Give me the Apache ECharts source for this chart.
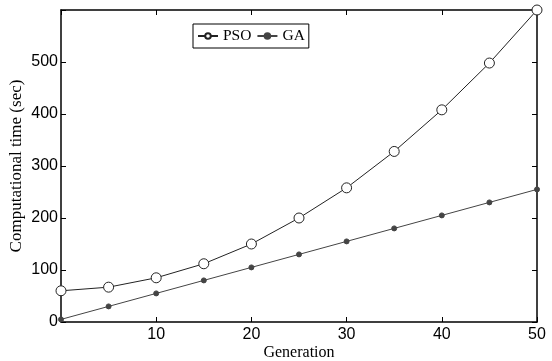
<!DOCTYPE html>
<html><head><meta charset="utf-8">
<script src="https://cdn.jsdelivr.net/npm/echarts@6/dist/echarts.min.js"></script>
<style>html,body{margin:0;padding:0;background:#fff}#c{width:552px;height:361px}</style>
</head><body><div id="c"></div>
<script>
const generations = [0,5,10,15,20,25,30,35,40,45,50];
const psoTime = [60,67,85,112,150,200,258,328,408,498,600];
const gaTime = [5,30,55,80,105,130,155,180,205,230,255];
const xTicks = [10,20,30,40,50];
const yTicks = [0,100,200,300,400,500];

const chart = echarts.init(document.getElementById('c'));
const sans = 'Liberation Sans, Arial, sans-serif';
const serif = 'Liberation Serif, Times New Roman, serif';
const axisCommon = {
  axisLine:{show:true,onZero:false,lineStyle:{color:'#000',width:1.5}},
  axisTick:{show:true,inside:true,length:5,lineStyle:{color:'#000',width:1}},
  splitLine:{show:false}
};
chart.setOption({
  animation:false,
  grid:{left:61,right:15,top:10,bottom:39,containLabel:false,outerBoundsMode:'none'},
  legend:{
    left:193,top:24,padding:[4,4,4,4],
    borderColor:'#000',borderWidth:1,itemGap:5,itemWidth:20,itemHeight:7,
    textStyle:{fontFamily:serif,fontSize:15.5,color:'#000'},
    data:['PSO','GA']
  },
  xAxis:[
    Object.assign({type:'value',min:0,max:50,interval:10,position:'bottom',
      name:'Generation',nameLocation:'middle',nameGap:23,nameMoveOverlap:false,
      nameTextStyle:{fontFamily:serif,fontSize:16,color:'#000'},
      axisLabel:{fontFamily:sans,fontSize:16,color:'#000',margin:5,
        formatter:v=>xTicks.includes(v)?String(v):''}},axisCommon),
    Object.assign({type:'value',min:0,max:50,interval:10,position:'top',
      axisLabel:{show:false}},axisCommon)
  ],
  yAxis:[
    Object.assign({type:'value',min:0,max:600,interval:100,position:'left',
      name:'Computational time (sec)',nameLocation:'middle',nameGap:36,nameMoveOverlap:false,
      nameTextStyle:{fontFamily:serif,fontSize:17,color:'#000'},
      axisLabel:{fontFamily:sans,fontSize:16,color:'#000',margin:3,
        formatter:v=>yTicks.includes(v)?String(v):''}},axisCommon),
    Object.assign({type:'value',min:0,max:600,interval:100,position:'right',
      axisLabel:{show:false}},axisCommon)
  ],
  series:[
    {name:'PSO',type:'line',data:generations.map((g,i)=>[g,psoTime[i]]),
      symbol:'circle',symbolSize:10,showAllSymbol:true,
      itemStyle:{color:'#fff',borderColor:'#222',borderWidth:1},
      lineStyle:{color:'#222',width:1},z:3,clip:false},
    {name:'GA',type:'line',data:generations.map((g,i)=>[g,gaTime[i]]),
      symbol:'circle',symbolSize:5,showAllSymbol:true,
      itemStyle:{color:'#444',borderColor:'#444',borderWidth:1},
      lineStyle:{color:'#444',width:1},z:3,clip:false}
  ]
});
</script></body></html>
